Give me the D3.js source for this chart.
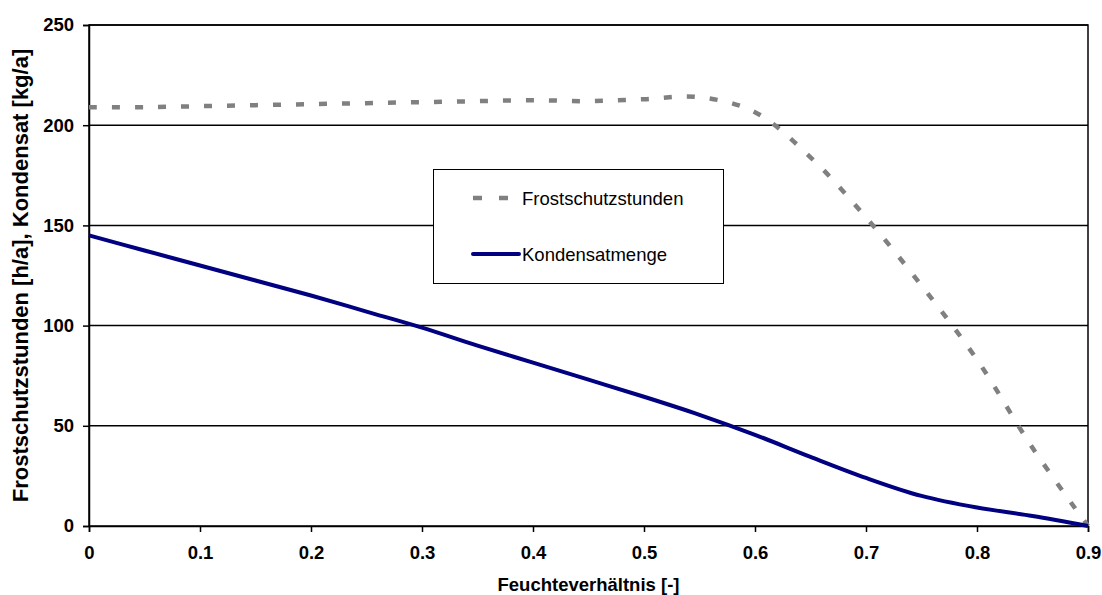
<!DOCTYPE html>
<html>
<head>
<meta charset="utf-8">
<script src="https://cdn.jsdelivr.net/npm/d3@7"></script>
<style>
  html, body { margin: 0; padding: 0; background: #fff; }
  svg { display: block; font-family: Arial, "Liberation Sans", sans-serif; }
</style>
</head>
<body>
<svg id="chart" width="1102" height="595"></svg>
<script>
// ---- data ----
const feuchte = [0, 0.05, 0.1, 0.15, 0.2, 0.25, 0.3, 0.35, 0.4, 0.45, 0.5, 0.55, 0.6, 0.65, 0.7, 0.75, 0.8, 0.85, 0.9];
const frostschutzstunden = [209, 209, 209.5, 210, 210.5, 211, 211.5, 212, 212.5, 212, 213, 214, 206.5, 184, 154, 120, 83, 39, 0];
const kondensatmenge = [145, 137.5, 130, 122.5, 115, 107, 99, 90, 81.5, 73, 64.5, 55.5, 45.5, 34.5, 24, 15, 9.2, 5, 0];
const xTicks = [0, 0.1, 0.2, 0.3, 0.4, 0.5, 0.6, 0.7, 0.8, 0.9];
const yTicks = [0, 50, 100, 150, 200, 250];
const seriesNames = ["Frostschutzstunden", "Kondensatmenge"];
const xTitle = "Feuchteverhältnis [-]";
const yTitle = "Frostschutzstunden [h/a],  Kondensat [kg/a]";

// ---- layout ----
const svg = d3.select("#chart");
const L = 89, R = 1088, T = 25, B = 526;
const x = d3.scaleLinear().domain([0, 0.9]).range([L, R]);
const y = d3.scaleLinear().domain([0, 250]).range([B, T]);

// gridlines
svg.append("g").selectAll("line").data(yTicks.filter(d => d > 0)).join("line")
  .attr("x1", L).attr("x2", R)
  .attr("y1", d => y(d)).attr("y2", d => y(d))
  .attr("stroke", "#000").attr("stroke-width", 1.5);

// plot border
svg.append("rect").attr("x", L).attr("y", T).attr("width", R - L).attr("height", B - T)
  .attr("fill", "none").attr("stroke", "#000").attr("stroke-width", 1.5);

// axes
const yAxis = d3.axisLeft(y).tickValues(yTicks).tickSize(6).tickPadding(9).tickFormat(d3.format("d"));
const gy = svg.append("g").attr("transform", `translate(${L},0)`).call(yAxis);
const xAxis = d3.axisBottom(x).tickValues(xTicks).tickSize(6).tickPadding(14).tickFormat(d => d === 0 ? "0" : d3.format(".1f")(d));
const gx = svg.append("g").attr("transform", `translate(0,${B})`).call(xAxis);
[gx, gy].forEach(g => {
  g.select(".domain").attr("stroke", "#000").attr("stroke-width", 1.5);
  g.selectAll(".tick line").attr("stroke", "#000").attr("stroke-width", 1.5);
  g.selectAll(".tick text").attr("fill", "#000")
    .style("font-size", "18.5px").style("font-weight", "bold")
    .style("font-family", "Arial, 'Liberation Sans', sans-serif");
});

// axis titles
svg.append("text").attr("x", (L + R) / 2).attr("y", 591)
  .attr("text-anchor", "middle").style("font-size", "18.5px").style("font-weight", "bold")
  .text(xTitle);
svg.append("text").attr("transform", `translate(28,${(T + B) / 2}) rotate(-90)`)
  .attr("text-anchor", "middle").style("font-size", "22px").style("font-weight", "bold")
  .text(yTitle);

// lines
const lineGen = vals => d3.line()
  .x((d, i) => x(feuchte[i]))
  .y(d => y(d))
  .curve(d3.curveCatmullRom.alpha(0.5))(vals);

svg.append("path").attr("d", lineGen(frostschutzstunden))
  .attr("fill", "none").attr("stroke", "#808080").attr("stroke-width", 4.5)
  .attr("stroke-dasharray", "8,15");
svg.append("path").attr("d", lineGen(kondensatmenge))
  .attr("fill", "none").attr("stroke", "#000080").attr("stroke-width", 4)
  .attr("stroke-linejoin", "round");

// legend
const lg = svg.append("g");
lg.append("rect").attr("x", 433.5).attr("y", 169.5).attr("width", 290).attr("height", 114)
  .attr("fill", "#fff").attr("stroke", "#000").attr("stroke-width", 1);
lg.append("line").attr("x1", 473).attr("x2", 519).attr("y1", 198).attr("y2", 198)
  .attr("stroke", "#808080").attr("stroke-width", 4.5).attr("stroke-dasharray", "9,17");
lg.append("line").attr("x1", 473).attr("x2", 519).attr("y1", 254).attr("y2", 254)
  .attr("stroke", "#000080").attr("stroke-width", 4).attr("stroke-linecap", "round");
lg.append("text").attr("x", 522).attr("y", 205).style("font-size", "18.5px").text(seriesNames[0]);
lg.append("text").attr("x", 522).attr("y", 261).style("font-size", "18.5px").text(seriesNames[1]);
</script>
</body>
</html>
